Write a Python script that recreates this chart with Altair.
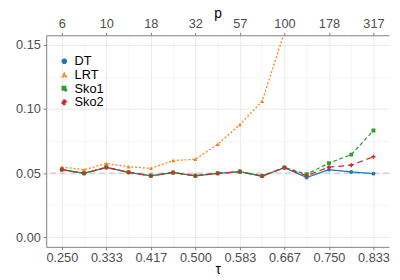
import altair as alt
import pandas as pd

series = ["DT", "LRT", "Sko1", "Sko2"]
tau = [0.25, 0.2917, 0.3333, 0.375, 0.4167, 0.4583, 0.5, 0.5417,
       0.5833, 0.625, 0.6667, 0.7083, 0.75, 0.7917, 0.8333]
dt = [0.0527, 0.0498, 0.0544, 0.0506, 0.0479, 0.0504, 0.0479, 0.0498,
      0.0511, 0.0476, 0.0542, 0.0466, 0.0527, 0.0509, 0.0496]
lrt = [0.0547, 0.0527, 0.0575, 0.0550, 0.0537, 0.0598, 0.0608, 0.0725,
       0.0878, 0.1060, 0.1600]
sko1 = [0.0528, 0.0499, 0.0546, 0.0507, 0.0480, 0.0505, 0.0480, 0.0499,
        0.0512, 0.0478, 0.0544, 0.0491, 0.0578, 0.0644, 0.0832]
sko2 = [0.0527, 0.0498, 0.0545, 0.0506, 0.0479, 0.0504, 0.0479, 0.0498,
        0.0511, 0.0477, 0.0543, 0.0480, 0.0547, 0.0562, 0.0628]

x_ticks = [0.25, 0.3333, 0.4167, 0.5, 0.5833, 0.6667, 0.75, 0.8333]
x_minor = [0.2917, 0.375, 0.4583, 0.5417, 0.625, 0.7083, 0.7917]
p_labels = ["6", "10", "18", "32", "57", "100", "178", "317"]
y_ticks = [0.0, 0.05, 0.1, 0.15]
y_minor = [0.025, 0.075, 0.125]

rows = []
for name, vals in zip(series, [dt, lrt, sko1, sko2]):
    for t, v in zip(tau, vals):
        rows.append({"tau": t, "rate": v, "method": name})
df = pd.DataFrame(rows)

colors = ["#1f77b4", "#ff7f0e", "#2ca02c", "#d62728"]
dashes = [[1, 0], [2, 2], [4, 2.5], [6, 4]]
shapes = ["circle", "triangle-up", "square", "cross"]

xscale = alt.Scale(domain=[0.2208, 0.8625], nice=False, zero=False)
yscale = alt.Scale(domain=[-0.0075, 0.1575], nice=False, zero=False)
FONT = "Liberation Sans"
AX = dict(domainColor="#7f7f7f", tickColor="#7f7f7f", labelColor="#4d4d4d",
          labelFontSize=13, labelFont=FONT, tickSize=3, titleFont=FONT,
          titleFontSize=14, titleFontWeight="normal", titleColor="#000000")

base = alt.Chart(df)

minor = base.mark_point(opacity=0).encode(
    x=alt.X("tau:Q", scale=xscale, axis=alt.Axis(
        orient="bottom", values=x_minor, grid=True, gridColor="#f2f2f2",
        gridWidth=0.8, labels=False, ticks=False, domain=False, title=None)),
    y=alt.Y("rate:Q", scale=yscale, axis=alt.Axis(
        orient="left", values=y_minor, grid=True, gridColor="#f2f2f2",
        gridWidth=0.8, labels=False, ticks=False, domain=False, title=None)),
)

ref = alt.Chart(pd.DataFrame({"y": [0.05]})).mark_rule(
    color="#bdbdbd", strokeDash=[6, 4], strokeWidth=1
).encode(y=alt.Y("y:Q", scale=yscale, axis=None))

lines = base.mark_line(strokeWidth=1.3, clip=True).encode(
    x=alt.X("tau:Q", scale=xscale, axis=alt.Axis(
        orient="bottom", values=x_ticks, format=".3f", grid=True,
        gridColor="#ebebeb", title="τ", labelPadding=2, titlePadding=-2, **AX)),
    y=alt.Y("rate:Q", scale=yscale, axis=alt.Axis(
        orient="left", values=y_ticks, format=".2f", grid=True,
        gridColor="#ebebeb", title=None, labelPadding=3, **AX)),
    color=alt.Color("method:N", scale=alt.Scale(domain=series, range=colors),
                    legend=alt.Legend(title=None, orient="none", legendX=12,
                                      legendY=20, labelFontSize=13,
                                      labelFont=FONT, rowPadding=0,
                                      symbolSize=18, padding=0, labelOffset=4,
                                      labelColor="#000000")),
    strokeDash=alt.StrokeDash("method:N", scale=alt.Scale(domain=series, range=dashes),
                              legend=None),
    order=alt.Order("tau:Q"),
)

points = base.mark_point(filled=True, size=16, clip=True, opacity=1).encode(
    x=alt.X("tau:Q", scale=xscale, axis=None),
    y=alt.Y("rate:Q", scale=yscale, axis=None),
    color=alt.Color("method:N", scale=alt.Scale(domain=series, range=colors)),
    shape=alt.Shape("method:N", scale=alt.Scale(domain=series, range=shapes)),
)

lbl = "['" + "','".join(p_labels) + "'][round((datum.value-0.25)*12)]"
top = base.mark_point(opacity=0).encode(
    x=alt.X("tau:Q", scale=xscale, axis=alt.Axis(
        orient="top", values=x_ticks, labelExpr=lbl, grid=False,
        title="p", labelPadding=2, titleY=-18, titleBaseline="alphabetic",
        **AX)),
    y=alt.Y("rate:Q", scale=yscale, axis=None),
)

chart = alt.layer(minor, ref, lines, points, top).resolve_axis(
    x="independent", y="independent"
).properties(
    width=350, height=216,
    autosize=alt.AutoSizeParams(type="none"),
    padding={"left": 39, "top": 25, "right": 3, "bottom": 31},
).configure_view(stroke=None)

chart.save("out.html", embed_options={"renderer": "svg", "actions": False})
